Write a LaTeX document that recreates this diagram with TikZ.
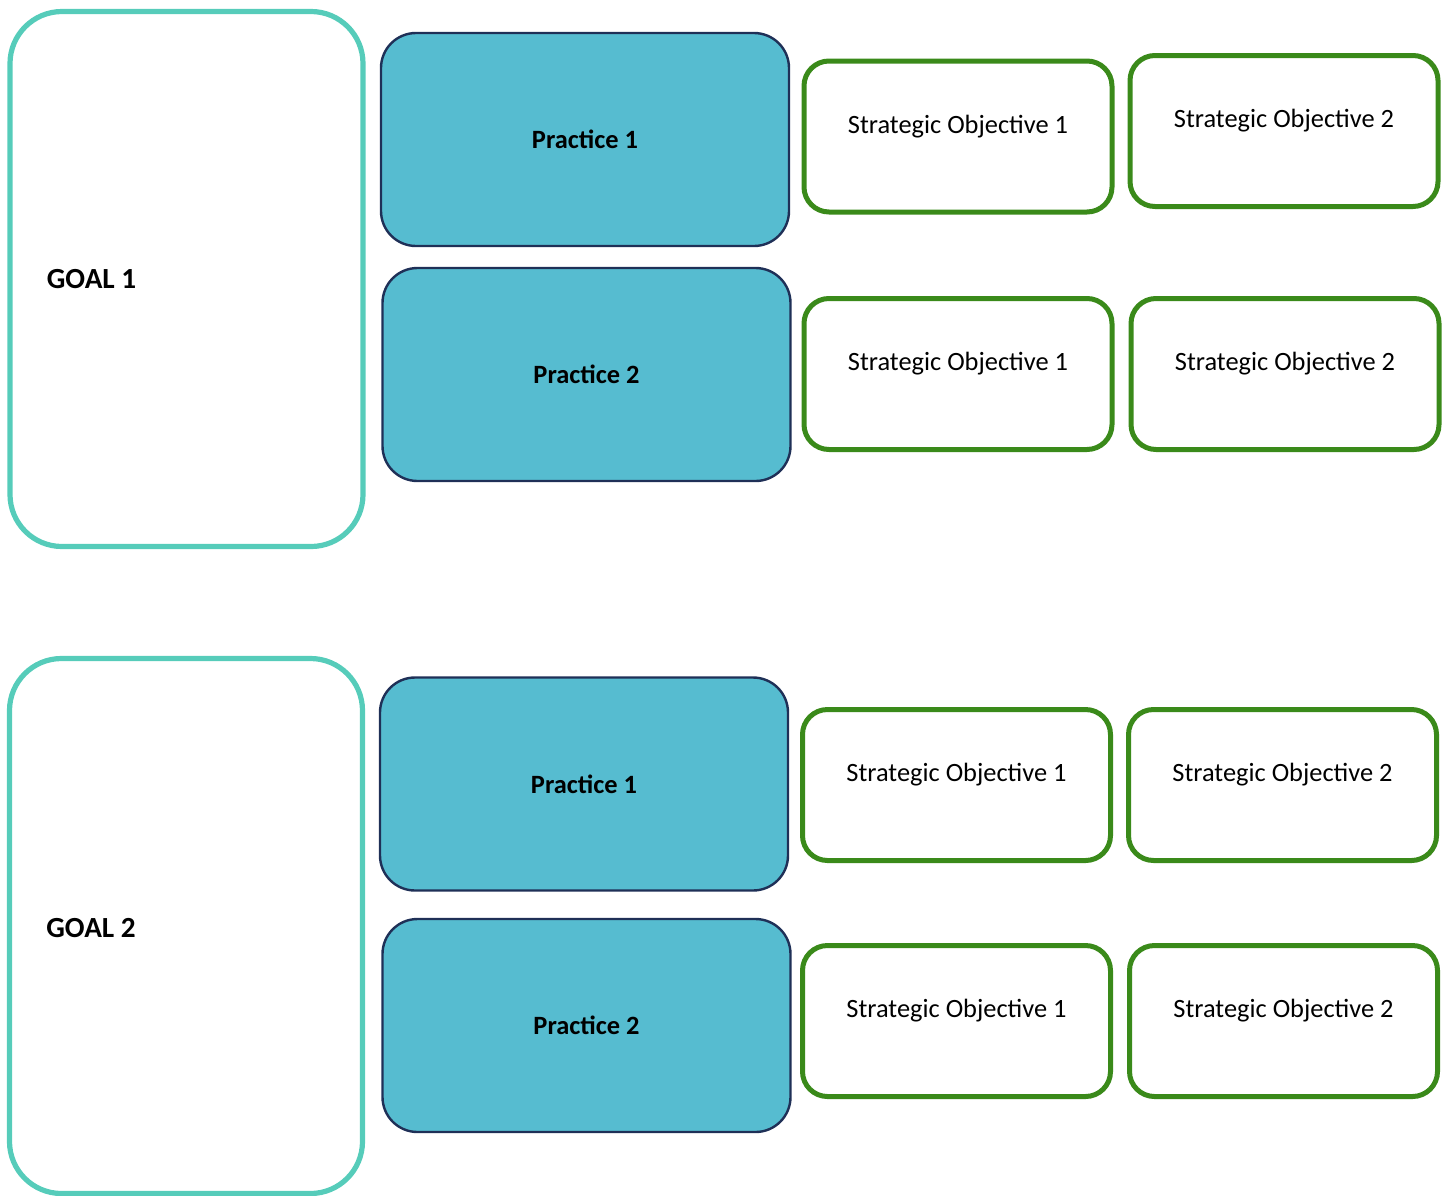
\documentclass[tikz,border=0pt]{standalone}
\usepackage{fontspec}
\setmainfont{Carlito}
\definecolor{goalc}{HTML}{56CCBA}
\definecolor{pracfill}{HTML}{56BCD0}
\definecolor{pracline}{HTML}{1F3057}
\definecolor{soc}{HTML}{3A8A1A}
\begin{document}
\begin{tikzpicture}[x=0.5pt,y=-0.5pt,
  goalbox/.style={draw=goalc, line width=2.6pt, rounded corners=26pt, minimum width=176.5pt, minimum height=267.5pt, inner sep=0pt},
  goaltext/.style={font=\fontsize{14.6}{17}\selectfont\bfseries, inner sep=0pt, anchor=west, xshift=19.5pt},
  pracbox/.style={draw=pracline, fill=pracfill, line width=1.2pt, rounded corners=17.5pt, minimum width=204pt, minimum height=106.5pt, font=\fontsize{13.2}{15}\selectfont\bfseries},
  sobox/.style={draw=soc, line width=2.5pt, rounded corners=12.5pt, minimum width=154pt, minimum height=75.5pt, inner sep=0pt},
  sotext/.style={font=\fontsize{13.2}{15}\selectfont, inner sep=0pt, yshift=5.2pt}
]
\useasboundingbox (0,0) rectangle (1446,1195);
% Goal 1 group
\node[goalbox, label={[goaltext]west:GOAL 1}] (g1) at (186.5,279) {};
\node[pracbox] (p11) at (585,139.5) {Practice 1};
\node[pracbox] (p12) at (586.5,374.5) {Practice 2};
\node[sobox, label={[sotext]center:Strategic Objective 1}] (s111) at (958,136.5) {};
\node[sobox, label={[sotext]center:Strategic Objective 2}] (s112) at (1284,131) {};
\node[sobox, label={[sotext]center:Strategic Objective 1}] (s121) at (958,374) {};
\node[sobox, label={[sotext]center:Strategic Objective 2}] (s122) at (1285,374) {};
% Goal 2 group
\node[goalbox, label={[goaltext, yshift=-1pt]west:GOAL 2}] (g2) at (186,926) {};
\node[pracbox] (p21) at (584,784) {Practice 1};
\node[pracbox] (p22) at (586.5,1025.5) {Practice 2};
\node[sobox, label={[sotext]center:Strategic Objective 1}] (s211) at (956.5,785) {};
\node[sobox, label={[sotext]center:Strategic Objective 2}] (s212) at (1282.5,785) {};
\node[sobox, label={[sotext]center:Strategic Objective 1}] (s221) at (956.5,1021) {};
\node[sobox, label={[sotext]center:Strategic Objective 2}] (s222) at (1283.5,1021) {};
\end{tikzpicture}
\end{document}
